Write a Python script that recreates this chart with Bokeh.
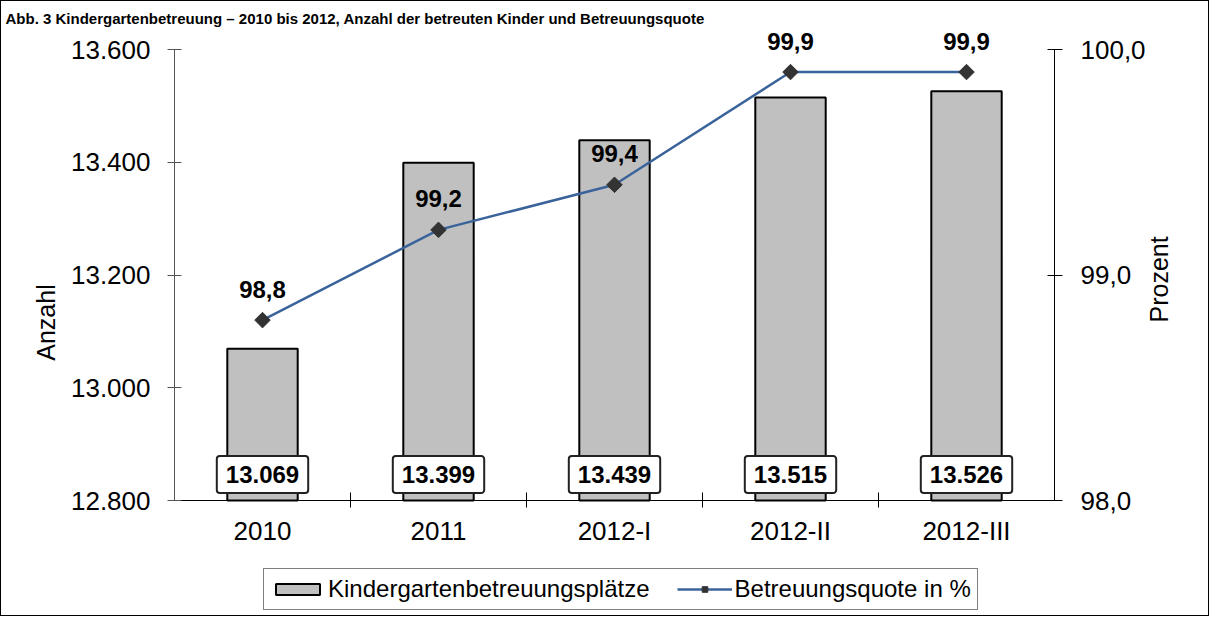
import math
from bokeh.plotting import figure
from bokeh.models import (Range1d, LinearAxis, FixedTicker, Legend, LegendItem,
                          ColumnDataSource)
from bokeh.core.properties import value
from bokeh.embed import file_html
from bokeh.resources import INLINE

# ---- data ----
categories = ["2010", "2011", "2012-I", "2012-II", "2012-III"]
plaetze = [13069, 13399, 13439, 13515, 13526]
quote = [98.8, 99.2, 99.4, 99.9, 99.9]
left_ticks = [12800, 13000, 13200, 13400, 13600]
right_ticks = [98.0, 99.0, 100.0]
title_text = ("Abb. 3 Kindergartenbetreuung \u2013 2010 bis 2012, Anzahl der betreuten "
              "Kinder und Betreuungsquote")
bar_label = "Kindergartenbetreuungsplätze"
line_label = "Betreuungsquote in %"


def de_int(v):
    return f"{int(v):,}".replace(",", ".")


def de_dec(v):
    return f"{v:.1f}".replace(".", ",")


xs = [i + 0.5 for i in range(len(categories))]
src = ColumnDataSource(dict(x=xs, n=plaetze, q=quote,
                            nl=[de_int(v) for v in plaetze],
                            ql=[de_dec(v) for v in quote]))

FONT = "Liberation Sans"
W, H = 1209, 616
LEFT, RIGHT = 173, 156
TOP = 26                 # title strip above the frame
AX_TOP, AX_BOT = 48, 499  # canvas y of the top / bottom of the value axes
FRAME_H = H - TOP
ax_px = AX_BOT - AX_TOP

# extend ranges so that the frame covers the full canvas height
l0, l1 = left_ticks[0], left_ticks[-1]
r0, r1 = right_ticks[0], right_ticks[-1]
lu = (l1 - l0) / ax_px
ru = (r1 - r0) / ax_px
y_rng = Range1d(l0 - (H - AX_BOT) * lu, l1 + (AX_TOP - TOP) * lu)
pct_rng = Range1d(r0 - (H - AX_BOT) * ru, r1 + (AX_TOP - TOP) * ru)

p = figure(width=W, height=H, output_backend="svg", toolbar_location=None,
           x_range=Range1d(0, len(categories)), y_range=y_rng,
           min_border_left=LEFT, min_border_right=RIGHT,
           min_border_top=TOP, min_border_bottom=0)
p.extra_y_ranges = {"pct": pct_rng}
p.styles = {"border": "1px solid #000"}
p.outline_line_color = None
p.grid.visible = False
p.background_fill_color = "white"
p.border_fill_color = "white"

# title
p.title.text = title_text
p.title.align = "left"
p.title.offset = -LEFT + 4
p.title.standoff = 2
p.title.text_font = FONT
p.title.text_font_size = "15px"
p.title.text_font_style = "bold"
p.title.text_color = "black"

# x axis (drawn at the bottom of the value axes)
xa = p.xaxis[0]
xa.fixed_location = l0
xa.ticker = FixedTicker(ticks=xs, minor_ticks=list(range(1, len(categories))))
xa.major_label_overrides = {x: c for x, c in zip(xs, categories)}
xa.major_tick_in = 0
xa.major_tick_out = 0
xa.minor_tick_in = 8
xa.minor_tick_out = 7
xa.minor_tick_line_color = "black"
xa.axis_line_color = "black"
xa.major_label_standoff = 8
xa.major_label_text_font = FONT
xa.major_label_text_font_size = "26px"
xa.major_label_text_color = "black"

# left axis
ya = p.yaxis[0]
ya.bounds = (l0, l1)
ya.ticker = FixedTicker(ticks=left_ticks)
ya.major_label_overrides = {t: de_int(t) for t in left_ticks}
ya.major_tick_in = 7
ya.major_tick_out = 7
ya.minor_tick_line_color = None
ya.axis_line_color = "#555555"
ya.major_tick_line_color = "#555555"
ya.major_label_standoff = 17
ya.major_label_text_font = FONT
ya.major_label_text_font_size = "26px"
ya.major_label_text_color = "black"
ya.axis_label = "Anzahl"
ya.axis_label_standoff = 8
ya.axis_label_text_font = FONT
ya.axis_label_text_font_size = "25px"
ya.axis_label_text_font_style = "normal"
ya.axis_label_text_color = "black"

# right axis
ra = LinearAxis(y_range_name="pct", ticker=FixedTicker(ticks=right_ticks),
                major_label_overrides={t: de_dec(t) for t in right_ticks},
                bounds=(r0, r1))
ra.major_tick_in = 7
ra.major_tick_out = 8
ra.minor_tick_line_color = None
ra.axis_line_color = "black"
ra.major_label_standoff = 18
ra.major_label_text_font = FONT
ra.major_label_text_font_size = "26px"
ra.major_label_text_color = "black"
ra.axis_label = "Prozent"
ra.axis_label_standoff = 10
ra.axis_label_orientation = math.pi / 2
ra.axis_label_text_font = FONT
ra.axis_label_text_font_size = "25px"
ra.axis_label_text_font_style = "normal"
ra.axis_label_text_color = "black"
p.add_layout(ra, "right")

# bars
bars = p.vbar(x="x", top="n", bottom=l0, width=0.4, source=src,
              fill_color="#c0c0c0", line_color="black", line_width=2)

# line + markers
ln = p.line("x", "q", y_range_name="pct", source=src, line_color="#3b639b",
            line_width=2.5)
pts = p.scatter("x", "q", y_range_name="pct", source=src, marker="square",
                angle=math.pi / 4, size=11, fill_color="#333333",
                line_color="#333333")

# value labels in boxes
p.text(x="x", y=l0, text="nl", source=src,
       text_font=value(FONT), text_font_size="24px", text_font_style="bold",
       text_color="black", text_align="center", text_baseline="middle",
       y_offset=-26, background_fill_color="white",
       border_line_color="#222222", border_line_width=2,
       padding=dict(left=9, right=9, top=10, bottom=10), border_radius=3)

# percent labels
p.text(x="x", y="q", text="ql", source=src, y_range_name="pct",
       text_font=value(FONT), text_font_size="24px", text_font_style="bold",
       text_color="black", text_align="center", text_baseline="middle",
       y_offset=-31)

# legend
legend = Legend(items=[LegendItem(label=bar_label, renderers=[bars]),
                       LegendItem(label=line_label, renderers=[ln, pts])],
                location=(89, 7), orientation="horizontal")
legend.border_line_color = "black"
legend.border_line_width = 1
legend.padding = 6
legend.spacing = 27
legend.label_standoff = 3
legend.glyph_width = 55
legend.glyph_height = 14
legend.label_text_font = FONT
legend.label_text_font_size = "24px"
legend.label_text_color = "black"
legend.background_fill_alpha = 1
p.add_layout(legend)

open("out.html", "w").write(file_html(p, INLINE))
